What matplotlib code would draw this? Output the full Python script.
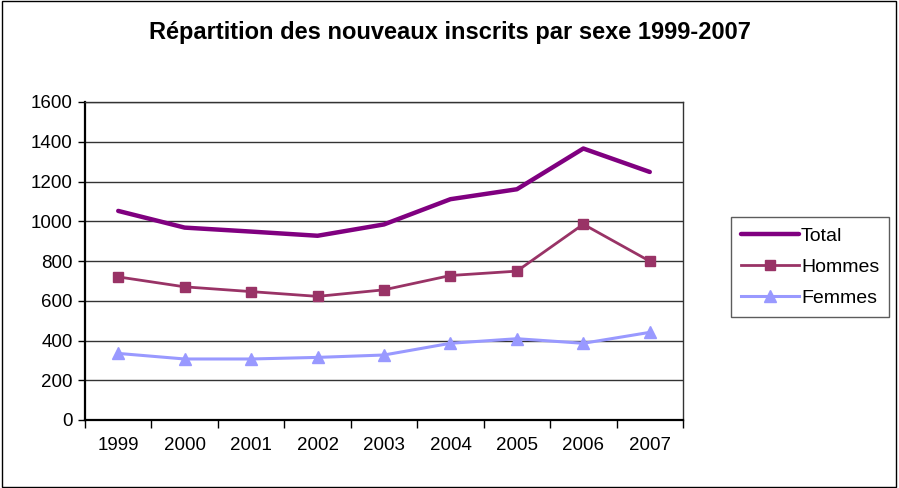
import matplotlib.pyplot as plt
import numpy as np

plt.rcParams['font.family'] = ['Liberation Sans', 'DejaVu Sans']

years = ['1999', '2000', '2001', '2002', '2003', '2004', '2005', '2006', '2007']
total = [1052, 968, 948, 927, 984, 1111, 1161, 1366, 1248]
hommes = [720, 670, 646, 622, 655, 727, 749, 985, 799]
femmes = [335, 307, 307, 315, 327, 386, 409, 386, 441]

fig = plt.figure(figsize=(8.99, 4.88), dpi=100)
ax = fig.add_axes([85 / 899, 1 - 420 / 488, (683 - 85) / 899, (420 - 102) / 488])

x = np.arange(len(years))
ax.plot(x, total, color='#800080', lw=3.2, label='Total', solid_capstyle='round')
ax.plot(x, hommes, color='#993366', lw=2, marker='s', ms=7, label='Hommes')
ax.plot(x, femmes, color='#9999FF', lw=2.2, marker='^', ms=8, label='Femmes')

ax.set_xlim(-0.5, len(years) - 0.5)
ax.set_ylim(0, 1600)
ax.set_yticks(range(0, 1601, 200))
ax.yaxis.grid(True, color='#333333', lw=1)
ax.set_axisbelow(True)

ax.set_xticks(x)
ax.set_xticklabels(years)
ax.set_xticks(np.arange(-0.5, len(years)), minor=True)
ax.tick_params(axis='x', which='major', length=0, pad=12, labelsize=13.5)
ax.tick_params(axis='x', which='minor', length=6, width=1, direction='out')
ax.tick_params(axis='y', length=5, width=1, labelsize=13.5, pad=4)

for s in ['top', 'right']:
    ax.spines[s].set_color('#333333')
    ax.spines[s].set_linewidth(1)
ax.spines['left'].set_linewidth(1.6)
ax.spines['bottom'].set_linewidth(1.6)

fig.text(0.5, 1 - 33 / 488, 'Répartition des nouveaux inscrits par sexe 1999-2007',
         ha='center', va='center', fontsize=17, fontweight='bold')

leg = fig.legend(loc='center', bbox_to_anchor=(810 / 899, 1 - 267 / 488),
                 frameon=True, fancybox=False, edgecolor='#333333', fontsize=14,
                 handlelength=3.0, handletextpad=0.1, labelspacing=0.7,
                 borderpad=0.5, borderaxespad=0)
leg.get_frame().set_linewidth(1)

fig.patches.append(plt.Rectangle((0.002, 0.003), 0.995, 0.994, transform=fig.transFigure,
                                 fill=False, edgecolor='black', lw=1))

fig.savefig('out.png', dpi=100)
